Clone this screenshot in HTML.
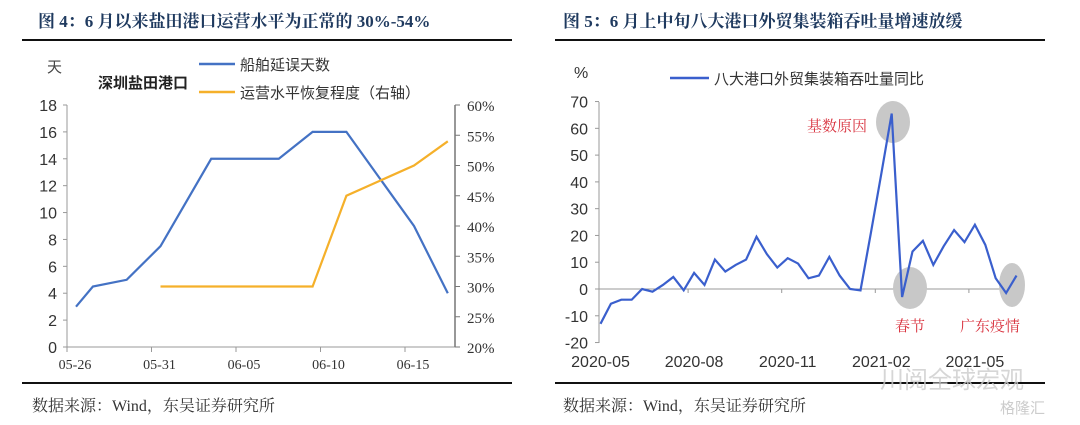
<!DOCTYPE html>
<html><head><meta charset="utf-8"><style>
body{margin:0;background:#fff;}
svg{display:block;font-family:"Liberation Sans","Noto Sans CJK SC",sans-serif;}
.ser{font-family:"Liberation Serif","Noto Serif CJK SC",serif;}
</style></head><body>
<svg id="c" width="1080" height="425" viewBox="0 0 1080 425">
<g><text class="ser" x="38" y="27" font-size="17" font-weight="bold" fill="#1f3a5f">图 4：6 月以来盐田港口运营水平为正常的 30%-54%</text></g>
<rect x="22" y="39" width="490" height="2" fill="#111"/>
<g><text class="ser" x="563" y="27" font-size="17" font-weight="bold" fill="#1f3a5f">图 5：6 月上中旬八大港口外贸集装箱吞吐量增速放缓</text></g>
<rect x="555" y="39" width="490" height="2" fill="#111"/>
<rect x="22" y="382" width="490" height="2" fill="#111"/>
<rect x="555" y="382" width="490" height="2" fill="#111"/>
<text class="ser" x="32" y="411" font-size="16" fill="#333">数据来源：Wind，东吴证券研究所</text>
<text class="ser" x="563" y="411" font-size="16" fill="#333">数据来源：Wind，东吴证券研究所</text>
<text x="880" y="388" font-size="24" fill="#ccc" opacity="0.8">川阅全球宏观</text>
<text x="1000" y="413" font-size="15" fill="#ccc">格隆汇</text>
<g id="L"></g><g id="R"></g>
</svg>
<script>
const leftTicksY=[0,2,4,6,8,10,12,14,16,18];
const rightTicksY=[20,25,30,35,40,45,50,55,60];
const leftXLabels=['05-26','05-31','06-05','06-10','06-15'];
const delayDays=[0,1,3,5,8,12,14,16,20,22];
const delayVals=[3,4.5,5,7.5,14,14,16,16,9,4];
const recDays=[5,14,16,20,22];
const recVals=[30,30,45,50,54];

const r2Ticks=[-20,-10,0,10,20,30,40,50,60,70];
const r2Labels=['2020-05','2020-08','2020-11','2021-02','2021-05'];
const r2Vals=[-13,-5.5,-4,-4,0,-1,1.5,4.5,-0.5,6,1.5,11,6.5,9,11,19.5,13,8,11.5,9.5,4,5,12,5,0,-0.5,21,43,65.5,-3,14,18,9,16,22,17.5,24,16.5,4,-1.5,5];

const NS='http://www.w3.org/2000/svg';
function mk(p,t,a){const e=document.createElementNS(NS,t);for(const k in a)e.setAttribute(k,a[k]);p.appendChild(e);return e;}
const L=document.getElementById('L'),R=document.getElementById('R');
// left chart
const lx=d=>76+16.9*d, ly=v=>347-v*(242/18), ry=v=>347-(v-20)*(242/40);
let e=mk(L,'line',{x1:67,y1:105,x2:67,y2:347,stroke:'#999'});

e=mk(L,'line',{x1:67,y1:347,x2:455,y2:347,stroke:'#999'});

e=mk(L,'line',{x1:455,y1:105,x2:455,y2:347,stroke:'#777',"stroke-width":1.5});

leftTicksY.forEach(v=>{mk(L,'line',{x1:63,x2:67,y1:ly(v),y2:ly(v),stroke:'#999'});
 const t=mk(L,'text',{x:57,y:ly(v)+6,"font-size":16,"text-anchor":"end",fill:'#333'});t.textContent=v;
 });
rightTicksY.forEach(v=>{mk(L,'line',{x1:455,x2:460,y1:ry(v),y2:ry(v),stroke:'#777'});
 const t=mk(L,'text',{x:467,y:ry(v)+6,"font-size":15,fill:'#333',class:'ser'});t.textContent=v+'%';
 });
leftXLabels.forEach((s,k)=>{const x=67+84.5*k;mk(L,'line',{x1:x,x2:x,y1:347,y2:352,stroke:'#999'});
 const t=mk(L,'text',{x:x+8,y:369,"font-size":14,"text-anchor":"middle",fill:'#333',class:'ser'});t.textContent=s;
 });
e=mk(L,'polyline',{points:delayDays.map((d,i)=>lx(d)+','+ly(delayVals[i])).join(' '),fill:'none',stroke:'#4472c4',"stroke-width":2.2});

e=mk(L,'polyline',{points:recDays.map((d,i)=>lx(d)+','+ry(recVals[i])).join(' '),fill:'none',stroke:'#f5b02a',"stroke-width":2.2});

e=mk(L,'text',{x:47,y:72,"font-size":15,fill:'#444'});e.textContent='天';

e=mk(L,'text',{x:98,y:88,"font-size":15,"font-weight":"bold",fill:'#222'});e.textContent='深圳盐田港口';

mk(L,'line',{x1:199,x2:235,y1:64,y2:64,stroke:'#4472c4',"stroke-width":2.5});
e=mk(L,'text',{x:240,y:70,"font-size":15,fill:'#333'});e.textContent='船舶延误天数';

mk(L,'line',{x1:199,x2:235,y1:92,y2:92,stroke:'#f5b02a',"stroke-width":2.5});
e=mk(L,'text',{x:240,y:98,"font-size":15,fill:'#333'});e.textContent='运营水平恢复程度（右轴）';


// right chart
const x2=i=>600.5+10.4*i, y2=v=>289-v*(241/90);
e=mk(R,'line',{x1:599,y1:102,x2:599,y2:343,stroke:'#999'});

e=mk(R,'line',{x1:599,y1:y2(0),x2:1018,y2:y2(0),stroke:'#999'});

[[893,122,17,21],[910,288,17,21],[1012,285,13,22]].forEach(c=>{const el=mk(R,'ellipse',{cx:c[0],cy:c[1],rx:c[2],ry:c[3],fill:'#c8c8c8'});
 });
r2Ticks.forEach(v=>{mk(R,'line',{x1:595,x2:599,y1:y2(v),y2:y2(v),stroke:'#999'});
 const t=mk(R,'text',{x:588,y:y2(v)+6,"font-size":16,"text-anchor":"end",fill:'#333'});t.textContent=v;
 });
r2Labels.forEach((s,k)=>{const x=x2(9*k);if(k>0)mk(R,'line',{x1:x-6,x2:x-6,y1:y2(0),y2:y2(0)+4,stroke:'#999'});
 const t=mk(R,'text',{x:x,y:367,"font-size":16,"text-anchor":"middle",fill:'#333'});t.textContent=s;
 });
e=mk(R,'polyline',{points:r2Vals.map((v,i)=>x2(i)+','+y2(v)).join(' '),fill:'none',stroke:'#3a5fcd',"stroke-width":2.2});

e=mk(R,'text',{x:574,y:78,"font-size":16,fill:'#333'});e.textContent='%';

mk(R,'line',{x1:670,x2:709,y1:78,y2:78,stroke:'#3a5fcd',"stroke-width":2.5});
e=mk(R,'text',{x:714,y:84,"font-size":15,fill:'#333'});e.textContent='八大港口外贸集装箱吞吐量同比';

[['基数原因',837,131],['春节',910,331],['广东疫情',990,331]].forEach(a=>{const t=mk(R,'text',{x:a[1],y:a[2],"font-size":15,"text-anchor":"middle",fill:'#d9333f',class:'ser'});t.textContent=a[0];
 });
</script>
</body></html>
